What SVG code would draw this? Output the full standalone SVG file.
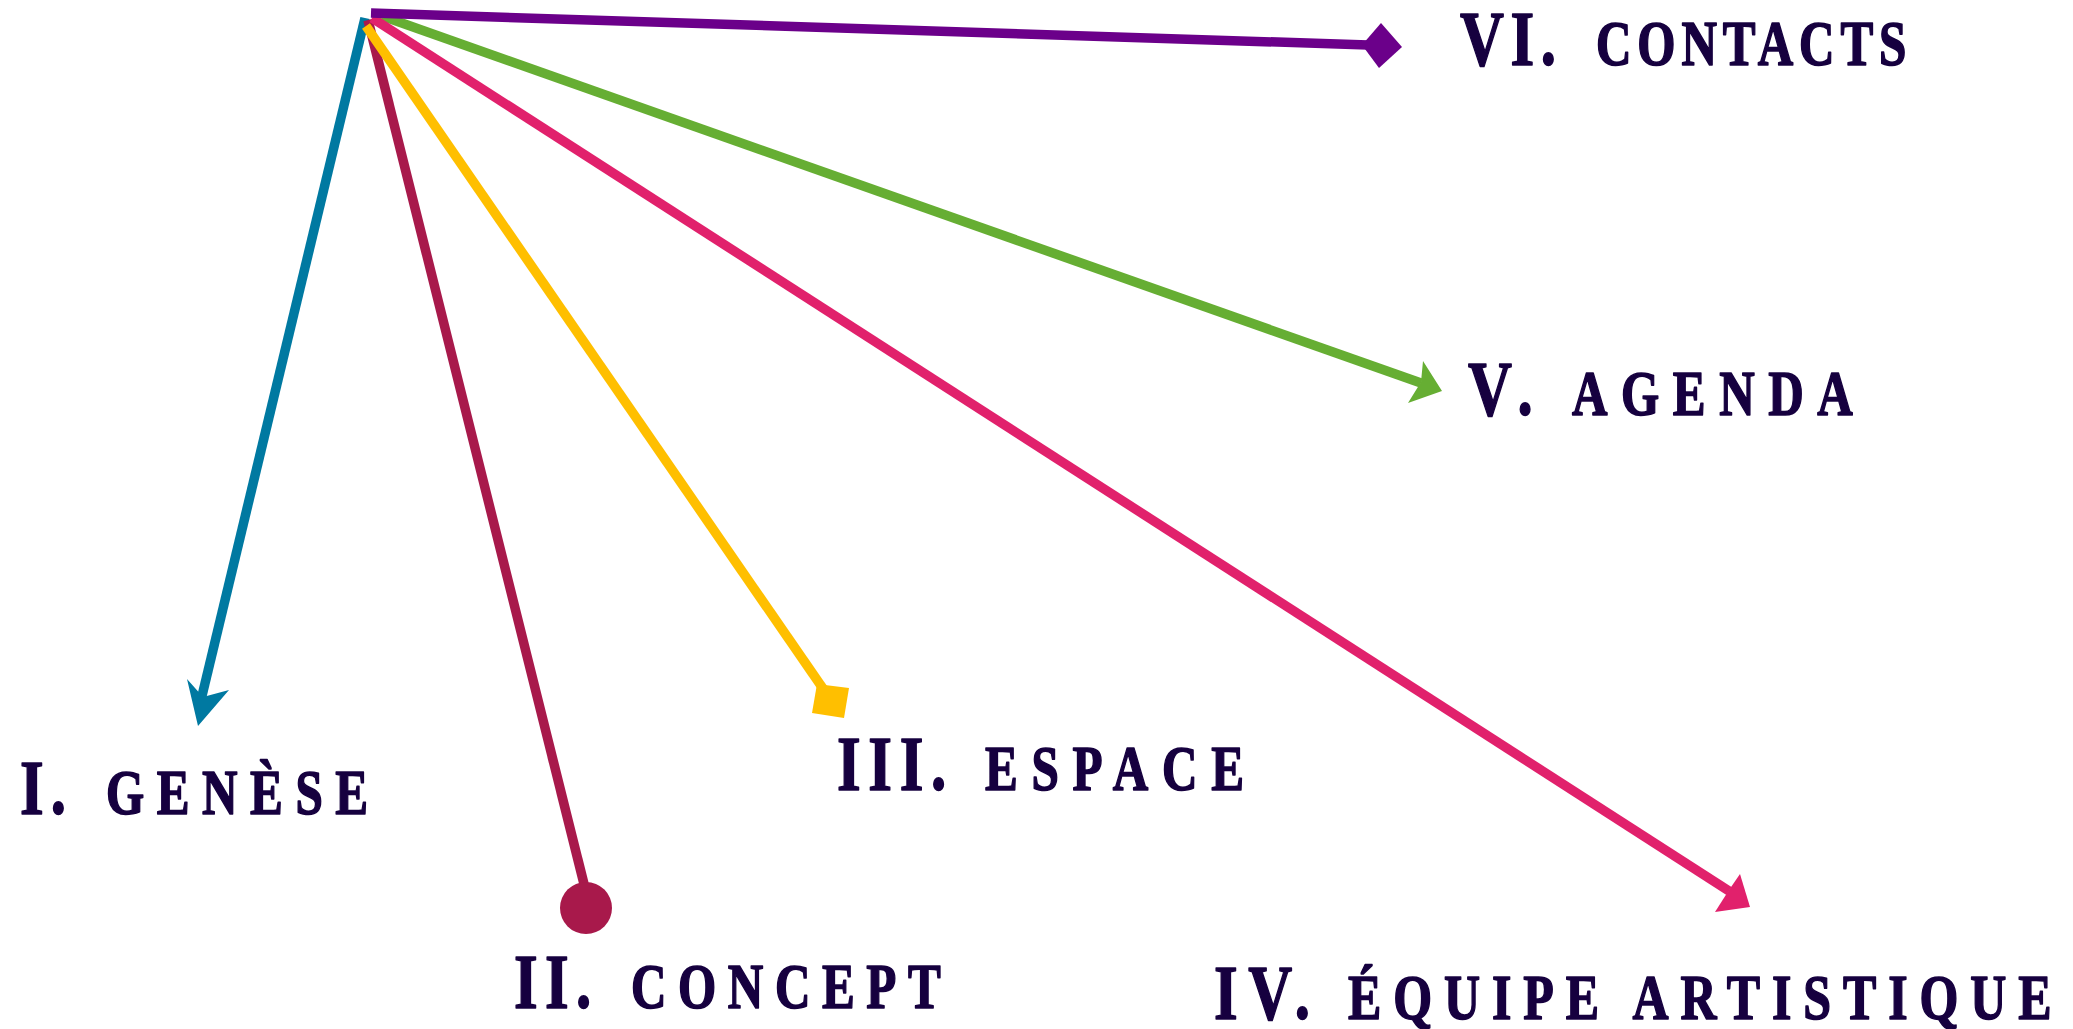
<svg xmlns="http://www.w3.org/2000/svg" width="2073" height="1029" viewBox="0 0 2073 1029">
<style>
.ln{fill:none;stroke-width:9.5;stroke-linecap:butt}
.lbl{font-family:"Liberation Serif","Times New Roman",serif;font-weight:bold;fill:#16003F;stroke:#16003F;stroke-width:1.6;stroke-linejoin:round}
.big{font-size:78px}
.sm{font-size:63px}
</style>
<rect width="2073" height="1029" fill="#ffffff"/>
<g id="connectors">
  <line class="ln" x1="382" y1="16" x2="1421" y2="383" stroke="#66AE33"/>
  <polygon points="1442,391 1423,361 1421,382 1408,403" fill="#66AE33"/>
  <line class="ln" x1="365" y1="18" x2="201" y2="700" stroke="#0079A1"/>
  <polygon points="198,726 187,679 203,697 229,690" fill="#0079A1"/>
  <line class="ln" x1="368" y1="20" x2="584" y2="884" stroke="#A8194B"/>
  <circle cx="586" cy="908" r="26" fill="#A8194B"/>
  <line class="ln" x1="372" y1="18" x2="1729" y2="891" stroke="#E1216C"/>
  <polygon points="1750,907 1740,874 1729,890 1715,912" fill="#E1216C"/>
  <line class="ln" x1="366" y1="26" x2="824" y2="690" stroke="#FFBF00"/>
  <polygon points="817,684 849,688 844,718 812,713" fill="#FFBF00"/>
  <line class="ln" x1="371" y1="13" x2="1368" y2="45" stroke="#6B008A"/>
  <polygon points="1362,45 1381,23 1402,47 1379,68" fill="#6B008A"/>
</g>
<g id="node-genese">
  <text class="lbl big" transform="translate(20,814) scale(0.78,1)" textLength="59" lengthAdjust="spacing">I.</text>
  <text class="lbl sm" transform="translate(106,814) scale(0.78,1)" textLength="336" lengthAdjust="spacing">GENÈSE</text>
</g>
<g id="node-concept">
  <text class="lbl big" transform="translate(514,1008) scale(0.78,1)" textLength="99" lengthAdjust="spacing">II.</text>
  <text class="lbl sm" transform="translate(631,1008) scale(0.78,1)" textLength="397" lengthAdjust="spacing">CONCEPT</text>
</g>
<g id="node-espace">
  <text class="lbl big" transform="translate(837,790) scale(0.78,1)" textLength="140" lengthAdjust="spacing">III.</text>
  <text class="lbl sm" transform="translate(985,790) scale(0.78,1)" textLength="332" lengthAdjust="spacing">ESPACE</text>
</g>
<g id="node-equipe">
  <text class="lbl big" transform="translate(1214,1019) scale(0.78,1)" textLength="123" lengthAdjust="spacing">IV.</text>
  <text class="lbl sm" transform="translate(1348,1019) scale(0.78,1)" style="font-size:64px" textLength="902" lengthAdjust="spacing">ÉQUIPE ARTISTIQUE</text>
</g>
<g id="node-agenda">
  <text class="lbl big" transform="translate(1468,415) scale(0.78,1)" textLength="83" lengthAdjust="spacing">V.</text>
  <text class="lbl sm" transform="translate(1572,415) scale(0.78,1)" textLength="360" lengthAdjust="spacing">AGENDA</text>
</g>
<g id="node-contacts">
  <text class="lbl big" transform="translate(1460,65) scale(0.78,1)" textLength="123" lengthAdjust="spacing">VI.</text>
  <text class="lbl sm" transform="translate(1596,65) scale(0.78,1)" textLength="398" lengthAdjust="spacing">CONTACTS</text>
</g>
</svg>
